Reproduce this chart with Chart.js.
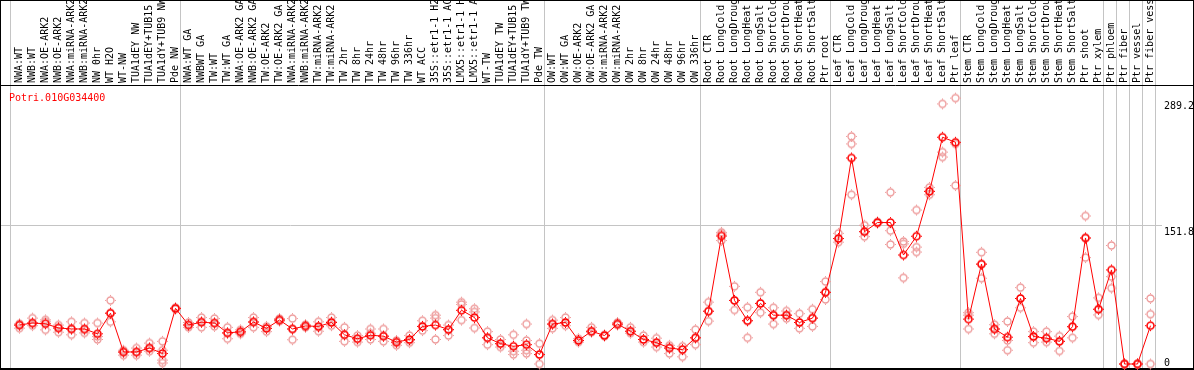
<!DOCTYPE html>
<html><head><meta charset="utf-8">
<script src="https://cdn.jsdelivr.net/npm/chart.js@4"></script>
<style>html,body{margin:0;padding:0;background:#fff;}#wrap{width:1194px;height:370px;position:relative;}</style>
</head><body><div id="wrap"><canvas id="c" width="1194" height="370"></canvas></div>
<script>
const geneId = "Potri.010G034400";

const categories = [
  "NWA:WT","NWB:WT","NWA:OE-ARK2","NWB:OE-ARK2","NWA:miRNA-ARK2","NWB:miRNA-ARK2","NW 0hr","WT H2O","WT-NW","TUA1dEY NW","TUA1dEY+TUB15 NW","TUA1dY+TUB9 NW","Pde NW",
  "NWA:WT GA","NWBWT GA","TW:WT","TW:WT GA","NWA:OE-ARK2 GA","NWB:OE-ARK2 GA","TW:OE-ARK2","TW:OE-ARK2 GA","NWA:miRNA-ARK2","NWB:miRNA-ARK2","TW:miRNA-ARK2","TW:miRNA-ARK2","TW 2hr","TW 8hr","TW 24hr","TW 48hr","TW 96hr","TW 336hr","WT ACC","35S::etr1-1 H2O","35S::etr1-1 ACC","LMX5::etr1-1 H2O","LMX5::etr1-1 ACC","WT-TW","TUA1dEY TW","TUA1dEY+TUB15 TW","TUA1dY+TUB9 TW","Pde TW",
  "OW:WT","OW:WT GA","OW:OE-ARK2","OW:OE-ARK2 GA","OW:miRNA-ARK2","OW:miRNA-ARK2","OW 2hr","OW 8hr","OW 24hr","OW 48hr","OW 96hr","OW 336hr",
  "Root CTR","Root LongCold","Root LongDrought","Root LongHeat","Root LongSalt","Root ShortCold","Root ShortDrought","Root ShortHeat","Root ShortSalt","Ptr root",
  "Leaf CTR","Leaf LongCold","Leaf LongDrought","Leaf LongHeat","Leaf LongSalt","Leaf ShortCold","Leaf ShortDrought","Leaf ShortHeat","Leaf ShortSalt","Ptr leaf",
  "Stem CTR","Stem LongCold","Stem LongDrought","Stem LongHeat","Stem LongSalt","Stem ShortCold","Stem ShortDrought","Stem ShortHeat","Stem ShortSalt","Ptr shoot",
  "Ptr xylem","Ptr phloem","Ptr fiber","Ptr vessel","Ptr fiber vessel"
];

const meanValues = [
  42.7,44.9,44.1,39.5,38.4,38.4,33.1,55.7,13.2,13.2,17.5,11.5,61.0,
  42.8,45.8,44.9,34.1,35.3,46.0,39.1,48.2,38.4,41.7,41.2,45.5,32.0,27.7,31.5,30.5,24.0,26.9,41.2,42.7,37.7,58.9,50.9,28.7,22.3,19.4,21.2,10.4,
  43.8,45.5,25.8,35.9,31.2,43.8,35.9,26.9,23.4,17.5,15.8,28.7,
  57.9,140.3,69.7,47.4,66.4,53.5,53.5,45.5,50.3,78.6,
  137.5,225.8,145.0,155.0,155.0,119.5,140.0,189.2,248.5,243.0,
  49.2,109.5,38.4,29.4,71.8,30.1,28.3,24.8,40.9,138.1,
  60.0,103.1,0,0,42.0
];

const rep1 = [
  44.1,50.3,48.4,42.7,46.3,44.9,44.9,69.7,15.1,17.5,22.9,24.8,61.7,
  45.5,50.9,49.8,40.2,37.4,50.9,41.2,49.8,49.8,43.1,46.3,50.9,40.2,31.2,38.4,38.4,25.8,31.2,47.4,53.5,42.7,67.8,60.6,35.5,26.9,32.0,43.8,22.3,
  48.1,50.9,27.7,40.2,32.0,45.5,40.2,31.2,28.3,20.5,19.4,37.7,
  67.8,144.3,85.1,62.1,78.6,61.7,58.1,55.2,60.0,90.4,
  143.2,249.4,152.1,155.8,188.1,134.3,168.7,193.5,285.0,291.4,
  56.3,122.4,43.1,46.6,83.7,35.5,35.5,30.5,52.0,162.2,
  72.5,129.9,0,0,71.8
];
const rep2 = [
  42.5,44.9,46.3,39.5,38.4,37.4,30.1,55.7,12.9,13.2,17.5,15.1,61.0,
  42.7,46.3,44.9,34.1,34.8,46.3,39.1,48.4,38.4,41.7,40.2,46.3,32.0,27.7,33.7,30.5,23.4,25.8,41.2,50.3,37.4,65.3,57.1,28.7,22.3,14.0,25.8,10.4,
  43.8,45.5,25.8,35.9,31.2,43.8,35.9,26.9,23.4,17.5,15.8,28.7,
  57.8,142.4,69.7,47.4,66.4,53.5,53.5,45.5,50.3,78.6,
  137.5,241.2,145.0,155.0,146.1,131.7,128.1,189.2,232.2,241.2,
  53.5,109.5,38.4,25.8,71.8,30.1,28.3,24.8,40.9,138.1,
  60.0,95.8,0,0,54.6
];
const rep3 = [
  39.3,42.0,37.4,34.8,32.0,34.1,26.9,46.3,9.7,9.7,14.0,4.3,60.0,
  40.2,40.2,41.2,27.7,33.1,40.2,35.5,47.0,26.6,40.2,35.9,42.0,24.8,24.0,26.9,24.8,20.5,23.4,36.6,26.9,31.2,48.1,39.5,21.2,18.6,10.4,15.1,0,
  39.1,42.0,24.0,34.8,30.5,42.7,33.7,24.0,18.6,11.5,7.9,21.2,
  47.0,135.3,59.2,28.7,56.3,43.8,49.8,39.1,41.2,70.7,
  133.5,185.5,139.6,154.3,131.0,94.4,122.7,185.5,226.8,195.6,
  38.4,94.0,33.1,15.1,61.7,23.4,24.0,14.3,28.7,116.6,
  53.8,83.2,0,0,0
];
const rep4 = categories.map((c, i) => i === 11 ? 1.1 : (i === 39 ? 11.5 : null));

const yTickValues = [0, 151.8, 289.2];
const separatorAfter = [12, 40, 52, 62, 72, 83, 84, 85, 86, 87];

function makeMarker(color, lw) {
  const c = document.createElement('canvas');
  c.width = 13; c.height = 13;
  const g = c.getContext('2d');
  g.strokeStyle = color;
  g.fillStyle = color;
  g.lineWidth = lw;
  g.beginPath(); g.arc(6.5, 6.5, 3.5, 0, Math.PI * 2); g.stroke();
  // tiny pixel ticks at the four compass points
  g.fillRect(6, 1, 1, 1);
  g.fillRect(6, 11, 1, 1);
  g.fillRect(1, 6, 1, 1);
  g.fillRect(11, 6, 1, 1);
  return c;
}
const meanMarker = makeMarker('#ff0000', 1.6);
const repMarker = makeMarker('#ee9c9c', 1.4);

const decor = {
  id: 'decor',
  beforeDatasetsDraw(chart) {
    const ctx = chart.ctx;
    const x = chart.scales.x, y = chart.scales.y;
    const W = chart.width, H = chart.height;
    ctx.save();
    ctx.strokeStyle = '#c4c4c4';
    ctx.lineWidth = 1;
    const xs = [x.getPixelForValue(0) - 9];
    separatorAfter.forEach(i => xs.push(x.getPixelForValue(i) + 5));
    xs.forEach(px => {
      const p = Math.floor(px) + 0.5;
      ctx.beginPath(); ctx.moveTo(p, 0); ctx.lineTo(p, H); ctx.stroke();
    });
    const gy = Math.round(y.getPixelForValue(yTickValues[1])) + 0.5;
    ctx.beginPath(); ctx.moveTo(0, gy); ctx.lineTo(1162, gy); ctx.stroke();
    ctx.strokeStyle = '#000';
    ctx.beginPath();
    ctx.moveTo(0, 0.5); ctx.lineTo(W, 0.5);
    ctx.moveTo(0.5, 0); ctx.lineTo(0.5, H);
    ctx.moveTo(W - 0.5, 0); ctx.lineTo(W - 0.5, H);
    ctx.moveTo(0, 85.5); ctx.lineTo(W, 85.5);
    ctx.stroke();
    ctx.lineWidth = 2;
    ctx.beginPath(); ctx.moveTo(0, H - 1); ctx.lineTo(W, H - 1); ctx.stroke();
    ctx.fillStyle = '#000';
    ctx.font = '10px "DejaVu Sans Mono", monospace';
    categories.forEach((lab, i) => {
      const px = x.getPixelForValue(i);
      ctx.save();
      ctx.translate(px, 83);
      ctx.rotate(-Math.PI / 2);
      ctx.textAlign = 'left';
      ctx.textBaseline = 'middle';
      ctx.fillText(lab, 0, 0);
      ctx.restore();
    });
    ctx.fillStyle = '#ff0000';
    ctx.textAlign = 'left';
    ctx.textBaseline = 'alphabetic';
    ctx.fillText(geneId, 9, 101);
    ctx.fillStyle = '#000';
    ctx.textBaseline = 'top';
    yTickValues.forEach(v => {
      let py = y.getPixelForValue(v) + 1.5;
      if (py > H - 12) py = H - 12;
      ctx.fillText(String(v), 1164, py);
    });
    ctx.restore();
  }
};

function repDataset(arr) {
  return {
    data: arr, showLine: false, pointStyle: repMarker, pointRadius: 5,
    borderColor: '#ee9c9c', backgroundColor: '#ee9c9c', order: 2, clip: false
  };
}

new Chart(document.getElementById('c'), {
  type: 'line',
  data: {
    labels: categories,
    datasets: [
      {
        data: meanValues, borderColor: '#ff0000', borderWidth: 1, tension: 0,
        pointStyle: meanMarker, pointRadius: 5, backgroundColor: '#ff0000',
        order: 0, clip: false
      },
      repDataset(rep1), repDataset(rep2), repDataset(rep3), repDataset(rep4)
    ]
  },
  options: {
    responsive: false,
    animation: false,
    devicePixelRatio: 1,
    layout: { padding: { left: 13, right: 37, top: 85, bottom: 1 } },
    plugins: { legend: { display: false }, tooltip: { enabled: false } },
    scales: {
      x: { type: 'category', offset: true, display: false },
      y: { min: 0, max: 305.75, display: false }
    }
  },
  plugins: [decor]
});
</script></body></html>
